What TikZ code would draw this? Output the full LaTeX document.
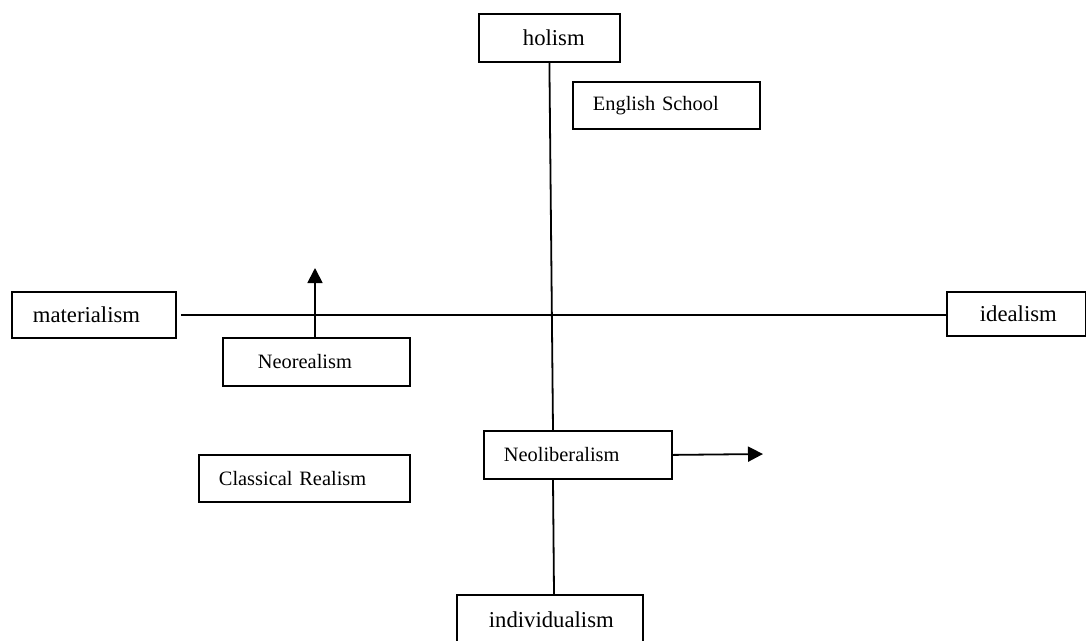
\documentclass[tikz,border=0pt]{standalone}
\usepackage{fontspec}
\setmainfont{Liberation Serif}
\usetikzlibrary{arrows.meta,calc}
\begin{document}
\begin{tikzpicture}[x=1pt,y=-1pt,
  box/.style={draw, line width=1.8pt, inner xsep=0pt, inner ysep=0pt,
              align=left, anchor=north west},
  big/.style={font=\fontsize{22.7}{26}\selectfont},
  small/.style={font=\fontsize{20.4}{24}\selectfont},
  link/.style={line width=1.8pt},
  arr/.style={line width=1.8pt, -{Triangle[length=15pt,width=15pt]}}]
\clip (0,0) rectangle (1086,640);
\useasboundingbox (0,0) rectangle (1086,640);

% boxes: text width = box width, left padding set with \hspace*
\node[box,big,text width=141,minimum height=48] (holism) at (478,13) {\hspace*{44pt}holism};
\node[box,small,text width=187,minimum height=47] (english) at (572,81) {\hspace*{20pt}English School};
\node[box,big,text width=164,minimum height=46] (material) at (11,291) {\hspace*{21pt}materialism};
\node[box,big,text width=139,minimum height=44] (ideal) at (946,291) {\hspace*{33pt}idealism};
\node[box,small,text width=187,minimum height=48] (neoreal) at (222,337) {\hspace*{35pt}Neorealism};
\node[box,small,text width=211,minimum height=47] (classical) at (198,454) {\hspace*{20pt}Classical Realism};
\node[box,small,text width=188,minimum height=48] (neolib) at (483,430) {\hspace*{20pt}Neoliberalism};
\node[box,big,text width=186,minimum height=50] (indiv) at (456,594) {\hspace*{32pt}individualism};

% axes
\coordinate (hleft) at ($(material.east)+(4,0)$);
\draw[link] (hleft) -- (ideal.west |- hleft);
\draw[link] (holism.south) -- ($(neolib.north west)+(70,0)$);
\draw[link] ($(neolib.south west)+(70,0)$) -- ($(indiv.north west)+(98,0)$);

% shifts
\coordinate (uptip) at (315,268);
\coordinate (righttip) at (763,454);
\draw[arr] (neoreal.north -| uptip) -- (uptip);
\draw[arr] (neolib.east) -- (righttip);
\end{tikzpicture}
\end{document}
